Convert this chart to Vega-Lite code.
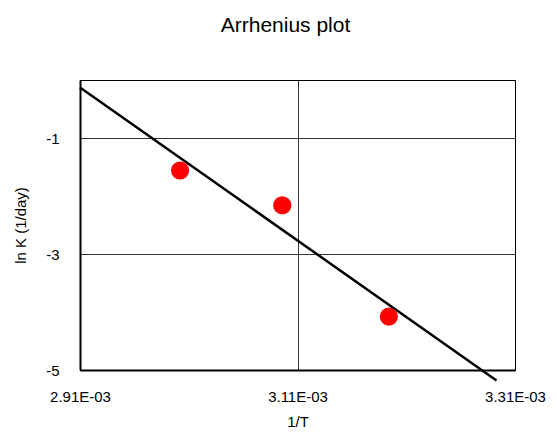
{
  "$schema": "https://vega.github.io/schema/vega-lite/v6.json",
  "autosize": "none",
  "width": 435,
  "height": 290,
  "padding": {"left": 80, "top": 80, "right": 42, "bottom": 62},
  "background": "white",
  "title": {
    "text": "Arrhenius plot",
    "font": "Liberation Sans",
    "fontSize": 21,
    "fontWeight": "normal",
    "color": "black",
    "anchor": "middle",
    "dx": -12,
    "offset": 44
  },
  "config": {
    "view": {"stroke": "black", "strokeWidth": 1},
    "axis": {
      "labelFont": "Liberation Sans",
      "titleFont": "Liberation Sans",
      "labelFontSize": 15,
      "titleFontSize": 15,
      "titleFontWeight": "normal",
      "labelColor": "black",
      "titleColor": "black",
      "labelFlush": false,
      "domainColor": "black",
      "domainWidth": 2,
      "gridColor": "black",
      "gridOpacity": 1,
      "gridWidth": 0.8,
      "tickColor": "black",
      "tickSize": 0
    }
  },
  "datasets": {
    "measured": [
      {"invT": 0.003002, "lnK": -1.56},
      {"invT": 0.003096, "lnK": -2.16},
      {"invT": 0.003194, "lnK": -4.08}
    ],
    "fit": [
      {"invT": 0.00291, "lnK": -0.13},
      {"invT": 0.003293, "lnK": -5.18}
    ]
  },
  "layer": [
    {
      "data": {"name": "fit"},
      "mark": {"type": "line", "color": "black", "strokeWidth": 2.5, "clip": false},
      "encoding": {
        "x": {
          "field": "invT",
          "type": "quantitative",
          "title": "1/T",
          "scale": {"domain": [0.00291, 0.00331], "nice": false, "zero": false},
          "axis": {
            "values": [0.00291, 0.00311, 0.00331],
            "labelExpr": "replace(upper(format(datum.value, '.2e')), 'E-3', 'E-03')",
            "labelPadding": 19,
            "titleY": 44,
            "grid": true
          }
        },
        "y": {
          "field": "lnK",
          "type": "quantitative",
          "title": "ln K (1/day)",
          "scale": {"domain": [-5, 0], "nice": false, "zero": false},
          "axis": {
            "values": [-5, -3, -1],
            "labelExpr": "'' + datum.value",
            "labelPadding": 21,
            "titleX": -52,
            "grid": true
          }
        }
      }
    },
    {
      "data": {"name": "measured"},
      "mark": {"type": "circle", "color": "#ff0000", "opacity": 1, "size": 330},
      "encoding": {
        "x": {"field": "invT", "type": "quantitative"},
        "y": {"field": "lnK", "type": "quantitative"}
      }
    }
  ]
}
